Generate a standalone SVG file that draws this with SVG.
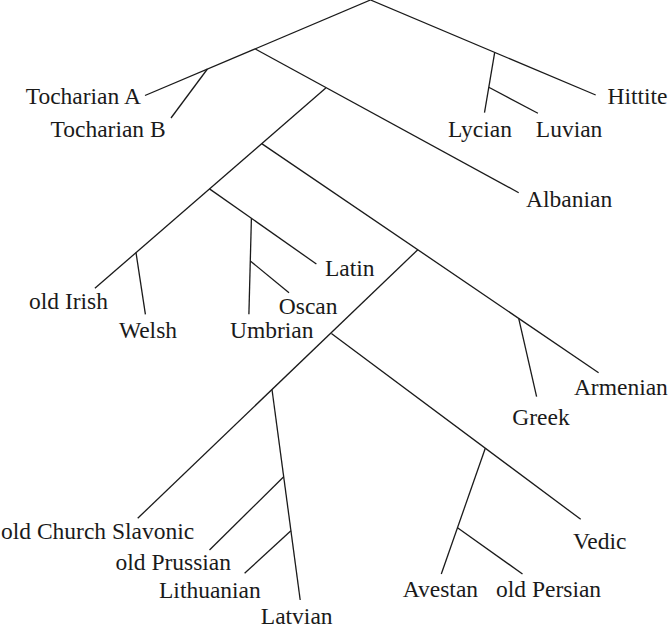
<svg xmlns="http://www.w3.org/2000/svg" width="669" height="629" viewBox="0 0 669 629">
<style>
.e{stroke:#1a1a1a;stroke-width:1.3;fill:none;stroke-linecap:butt}
.t text{font-size:23.5px;fill:#1a1a1a}
</style>
<rect width="669" height="629" fill="#ffffff"/>
<g id="connectors" class="e">
<line x1="370.5" y1="0" x2="145" y2="95.5"/>
<line x1="207.4" y1="69" x2="171" y2="118"/>
<line x1="370.5" y1="0" x2="595.7" y2="95"/>
<line x1="494.7" y1="52.4" x2="484.5" y2="112.7"/>
<line x1="488.8" y1="87.3" x2="537.9" y2="113.3"/>
<line x1="255.3" y1="49" x2="518.7" y2="192.7"/>
<line x1="325.8" y1="88" x2="94.9" y2="288.3"/>
<line x1="136" y1="252.6" x2="145.4" y2="314.3"/>
<line x1="261.7" y1="143.6" x2="598.6" y2="372.7"/>
<line x1="518.7" y1="318.4" x2="536.6" y2="396.7"/>
<line x1="209.5" y1="188.9" x2="316.4" y2="264"/>
<line x1="251.4" y1="218.3" x2="248.9" y2="314.3"/>
<line x1="250.3" y1="261" x2="289" y2="292.7"/>
<line x1="417.8" y1="249.7" x2="137.7" y2="518.3"/>
<line x1="272" y1="389.5" x2="300.2" y2="600"/>
<line x1="283.7" y1="476.7" x2="209.5" y2="550"/>
<line x1="290.9" y1="530.7" x2="244.6" y2="573.3"/>
<line x1="331.4" y1="333.5" x2="580.7" y2="519.3"/>
<line x1="485.3" y1="448.2" x2="441.3" y2="574"/>
<line x1="457.5" y1="527.7" x2="522.5" y2="574"/>
</g>
<g class="t" font-family="'Liberation Serif', 'DejaVu Serif', serif">
<g id="tocharian-a"><text x="25.7" y="104.3">Tocharian A</text></g>
<g id="tocharian-b"><text x="50.5" y="136.7">Tocharian B</text></g>
<g id="lycian"><text x="448" y="136.7">Lycian</text></g>
<g id="luvian"><text x="535.8" y="136.7">Luvian</text></g>
<g id="hittite"><text x="607.5" y="104">Hittite</text></g>
<g id="albanian"><text x="526" y="206.7">Albanian</text></g>
<g id="latin"><text x="325" y="276">Latin</text></g>
<g id="old-irish"><text x="29" y="309.3">old Irish</text></g>
<g id="welsh"><text x="118.9" y="337.7">Welsh</text></g>
<g id="oscan"><text x="278.8" y="314">Oscan</text></g>
<g id="umbrian"><text x="230" y="338.3">Umbrian</text></g>
<g id="armenian"><text x="573.9" y="395">Armenian</text></g>
<g id="greek"><text x="512.3" y="425">Greek</text></g>
<g id="old-church-slavonic"><text x="1" y="539">old Church Slavonic</text></g>
<g id="old-prussian"><text x="115.5" y="570">old Prussian</text></g>
<g id="lithuanian"><text x="159" y="598.3">Lithuanian</text></g>
<g id="latvian"><text x="260.8" y="624">Latvian</text></g>
<g id="vedic"><text x="573" y="549">Vedic</text></g>
<g id="avestan"><text x="402.8" y="597.3">Avestan</text></g>
<g id="old-persian"><text x="496" y="597.3">old Persian</text></g>
</g>
</svg>
